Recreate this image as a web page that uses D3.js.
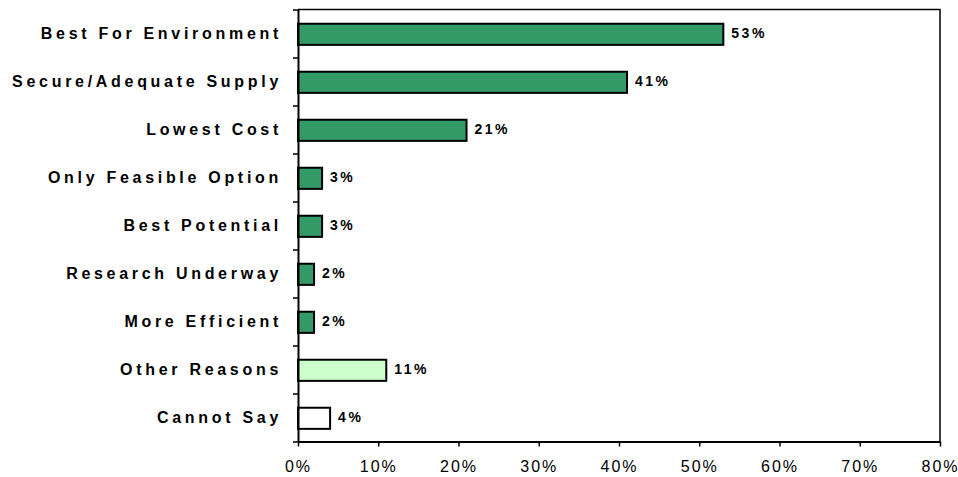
<!DOCTYPE html>
<html>
<head>
<meta charset="utf-8">
<script src="https://cdn.jsdelivr.net/npm/d3@7/dist/d3.min.js"></script>
<style>
  html, body { margin: 0; padding: 0; background: #ffffff; }
  svg { display: block; font-family: "Liberation Sans", Arial, sans-serif; }
</style>
</head>
<body>
<svg id="chart" width="958" height="477"></svg>
<script>
// Reasons given, share of respondents (%)
const categories = [
  "Best For Environment",
  "Secure/Adequate Supply",
  "Lowest Cost",
  "Only Feasible Option",
  "Best Potential",
  "Research Underway",
  "More Efficient",
  "Other Reasons",
  "Cannot Say"
];
const values = [53, 41, 21, 3, 3, 2, 2, 11, 4];
const barColors = ["#339966", "#339966", "#339966", "#339966", "#339966",
                   "#339966", "#339966", "#ccffcc", "#ffffff"];
const xTicks = [0, 10, 20, 30, 40, 50, 60, 70, 80];

const svg = d3.select("#chart");
const W = 958, H = 477;
const margin = { top: 9.5, right: 18, bottom: 35.5, left: 298 };
const iw = W - margin.left - margin.right;
const ih = H - margin.top - margin.bottom;

const g = svg.append("g").attr("transform", `translate(${margin.left},${margin.top})`);

const x = d3.scaleLinear().domain([0, 80]).range([0, iw]);
const y = d3.scaleBand().domain(categories).range([0, ih]).padding(0);
const yEdges = d3.scaleLinear().domain([0, categories.length]).range([0, ih]);
const barH = y.bandwidth() * 0.44;

// plot frame (top and right edges)
g.append("path")
  .attr("d", `M0,0H${iw}V${ih}`)
  .attr("fill", "none")
  .attr("stroke", "#000")
  .attr("stroke-width", 1.5);

// bars
g.selectAll("rect.bar")
  .data(categories)
  .join("rect")
  .attr("class", "bar")
  .attr("x", x(0))
  .attr("y", d => y(d) + (y.bandwidth() - barH) / 2 + 0.8)
  .attr("width", (d, i) => x(values[i]) - x(0))
  .attr("height", barH)
  .attr("fill", (d, i) => barColors[i])
  .attr("stroke", "#000")
  .attr("stroke-width", 2);

// value labels
g.selectAll("text.val")
  .data(categories)
  .join("text")
  .attr("class", "val")
  .attr("x", (d, i) => x(values[i]) + 8)
  .attr("y", d => y(d) + y.bandwidth() / 2)
  .attr("dy", "0.33em")
  .attr("font-size", 14)
  .attr("font-weight", "bold")
  .attr("letter-spacing", "2.5px")
  .attr("fill", "#000")
  .text((d, i) => values[i] + "%");

// category labels
g.selectAll("text.cat")
  .data(categories)
  .join("text")
  .attr("class", "cat")
  .attr("x", -16)
  .attr("y", d => y(d) + y.bandwidth() / 2)
  .attr("dy", "0.35em")
  .attr("text-anchor", "end")
  .attr("font-size", 16)
  .attr("font-weight", "bold")
  .attr("letter-spacing", "3.7px")
  .attr("fill", "#000")
  .text(d => d);

// left axis: ticks on category boundaries
const yAxis = g.append("g")
  .call(d3.axisLeft(yEdges).tickValues(d3.range(categories.length + 1)).tickFormat("").tickSize(5).tickSizeOuter(0));
yAxis.select(".domain").attr("stroke-width", 2);
yAxis.selectAll(".tick line").attr("stroke-width", 1.5);

// bottom axis
const xAxis = g.append("g")
  .attr("transform", `translate(0,${ih})`)
  .call(d3.axisBottom(x).tickValues(xTicks).tickFormat(d => d + "%").tickSize(5).tickSizeOuter(0).tickPadding(14));
xAxis.select(".domain").attr("stroke-width", 2);
xAxis.selectAll(".tick line").attr("stroke-width", 1.5);
xAxis.selectAll(".tick text")
  .attr("font-size", 16)
  .attr("font-family", "\"Liberation Sans\", Arial, sans-serif")
  .attr("letter-spacing", "2px")
  .attr("fill", "#000");
</script>
</body>
</html>
